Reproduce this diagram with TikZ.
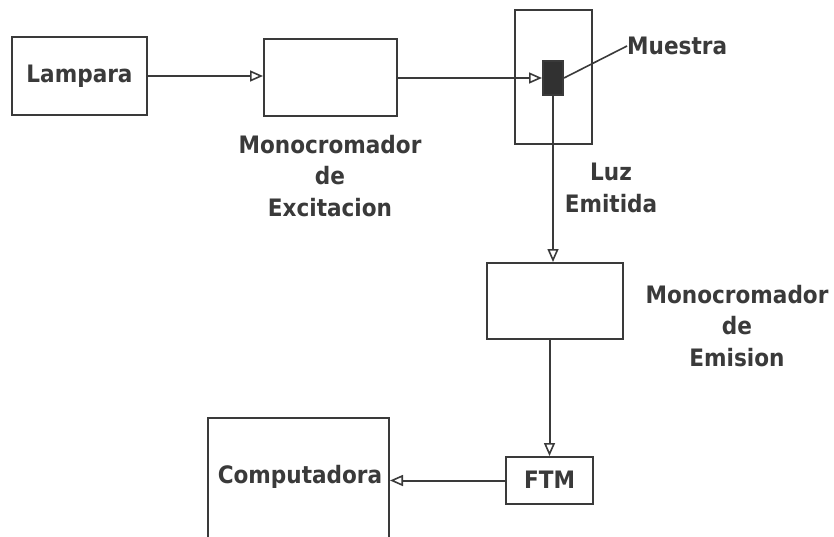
\documentclass[tikz,border=0pt]{standalone}
\usepackage{fontspec}
\setmainfont{DejaVu Sans Condensed}[BoldFont={DejaVu Sans Condensed Bold}]
\usetikzlibrary{arrows.meta}
\definecolor{ink}{HTML}{3A3A3A}
\tikzset{
  box/.style={draw=ink, line width=2pt, rectangle, inner sep=0pt},
  lbl/.style={text=ink, font=\fontsize{24}{31.5}\selectfont\bfseries, align=center, inner sep=0pt},
  conn/.style={draw=ink, line width=2pt, -{Triangle[open, length=13pt, width=11pt, line width=1.6pt]}},
  lead/.style={draw=ink, line width=1.6pt}
}
\begin{document}
\begin{tikzpicture}[x=1pt, y=-1pt]
\useasboundingbox (0,0) rectangle (834,537);
\begin{scope}
\clip (0,0) rectangle (834,537);
\node[box, minimum width=135pt, minimum height=78pt] (lamp) at (79.5,76) {};
\node[lbl] (lamptxt) at (79.5,76) {Lampara};
\node[box, minimum width=133pt, minimum height=77pt] (exc) at (330.5,77.5) {};
\node[lbl] (exctxt) at (330,176) {Monocromador\\de\\Excitacion};
\node[box, minimum width=77pt, minimum height=134pt] (holder) at (553.5,77) {};
\node[box, fill=ink!85!black, minimum width=20pt, minimum height=34pt] (sample) at (553,78) {};
\node[lbl, anchor=west] (muestra) at (627,46) {Muestra};
\node[lbl] (luz) at (611,188) {Luz\\Emitida};
\node[box, minimum width=136pt, minimum height=76pt] (emi) at (555,301) {};
\node[lbl] (emitxt) at (737,326) {Monocromador\\de\\Emision};
\node[box, minimum width=87pt, minimum height=47pt] (ftm) at (549.5,480.5) {};
\node[lbl] (ftmtxt) at (549.5,480) {FTM};
\node[box, minimum width=181pt, minimum height=150pt] (comp) at (298.5,493) {};
\node[lbl] (comptxt) at (300,477) {Computadora};

\draw[conn] (lamp.east) -- (lamp.east -| exc.west);
\draw[conn] (exc.east |- sample.west) -- (sample.west);
\draw[lead] (sample.east) -- (muestra.west);
\draw[conn] (sample.south) -- (sample.south |- emi.north);
\draw[conn] (ftm.north |- emi.south) -- (ftm.north);
\draw[conn] (ftm.west) -- (ftm.west -| comp.east);
\end{scope}
\end{tikzpicture}
\end{document}
